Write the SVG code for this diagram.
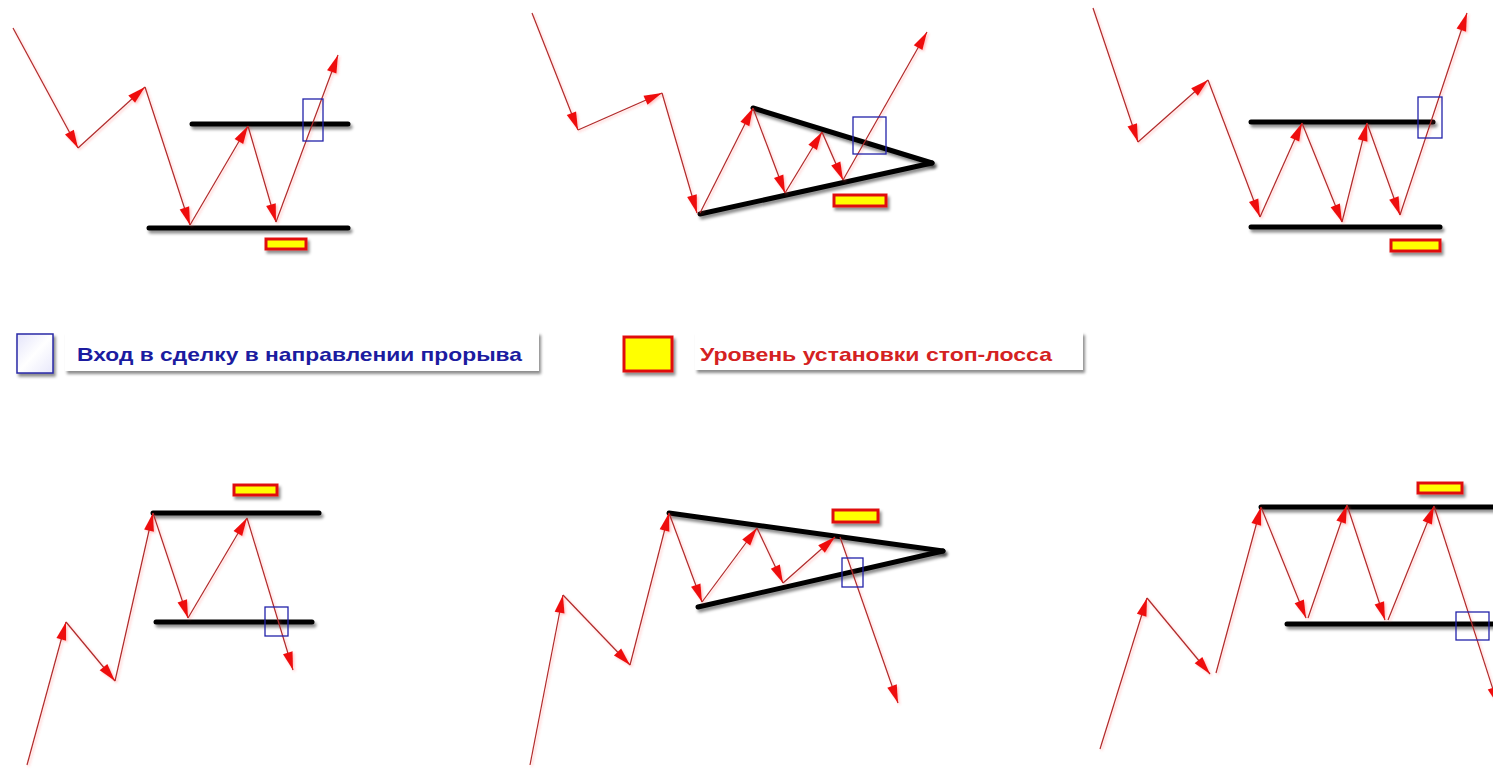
<svg xmlns="http://www.w3.org/2000/svg" width="1493" height="770" viewBox="0 0 1493 770">
<defs>
<filter id="sh" filterUnits="userSpaceOnUse" x="0" y="0" width="1520" height="800">
<feDropShadow dx="2" dy="3" stdDeviation="1.6" flood-color="#000" flood-opacity="0.45"/>
</filter>
<filter id="glow" filterUnits="userSpaceOnUse" x="0" y="0" width="1520" height="800">
<feDropShadow dx="1.5" dy="1.5" stdDeviation="1.2" flood-color="#ff5050" flood-opacity="0.35"/>
</filter>
<marker id="ah" markerUnits="userSpaceOnUse" markerWidth="22" markerHeight="14" viewBox="-20 -7 22 14" refX="0" refY="0" orient="auto">
<path d="M0,0 L-18,-5 L-18,5 Z" fill="#ee1111"/>
</marker>
<linearGradient id="bg" x1="0" y1="0" x2="1" y2="1">
<stop offset="0" stop-color="#e4e4fa"/>
<stop offset="0.5" stop-color="#ffffff"/>
<stop offset="1" stop-color="#e8e8fb"/>
</linearGradient>
</defs>
<style>
.lvl{stroke:#000;stroke-width:5;stroke-linecap:round;filter:url(#sh)}
.mv line{stroke:#b02a2a;stroke-width:1.2;marker-end:url(#ah)}
.mv{filter:url(#glow)}
.entry{fill:none;stroke:#2222aa;stroke-width:1.3}
.stop{fill:#ffff00;stroke:#e01010;stroke-width:3;filter:url(#sh)}
.lab{fill:#fff;filter:url(#sh)}
.t{font-family:"Liberation Sans",Arial,sans-serif;font-size:19px;font-weight:bold}
</style>
<rect width="1493" height="770" fill="#fff"/>

<!-- Panel 1: double bottom breakout up -->
<g id="panel1">
<g id="p1-levels">
<line class="lvl" x1="192" y1="124" x2="348" y2="124"/>
<line class="lvl" x1="149" y1="228" x2="348" y2="228"/>
</g>
<g id="p1-stop"><rect class="stop" x="266" y="239" width="40" height="10"/></g>
<g id="p1-connectors" class="mv">
<line x1="13" y1="28" x2="78" y2="148"/>
<line x1="78" y1="148" x2="145" y2="87"/>
<line x1="145" y1="87" x2="190" y2="225"/>
<line x1="190" y1="225" x2="248" y2="126"/>
<line x1="248" y1="126" x2="276" y2="222"/>
<line x1="276" y1="222" x2="338" y2="55"/>
</g>
<g id="p1-entry"><rect class="entry" x="303" y="99" width="20" height="42"/></g>
</g>

<!-- Panel 2: triangle breakout up -->
<g id="panel2">
<g id="p2-levels">
<line class="lvl" x1="753" y1="108" x2="932" y2="163"/>
<line class="lvl" x1="700" y1="214" x2="932" y2="163"/>
</g>
<g id="p2-stop"><rect class="stop" x="834" y="195" width="52" height="11"/></g>
<g id="p2-connectors" class="mv">
<line x1="532" y1="13" x2="578" y2="130"/>
<line x1="578" y1="130" x2="662" y2="93"/>
<line x1="662" y1="93" x2="697" y2="213"/>
<line x1="700" y1="213" x2="753" y2="108"/>
<line x1="753" y1="108" x2="785" y2="193"/>
<line x1="785" y1="193" x2="822" y2="132"/>
<line x1="822" y1="132" x2="843" y2="180"/>
<line x1="843" y1="180" x2="927" y2="32"/>
</g>
<g id="p2-entry"><rect class="entry" x="853" y="117" width="33" height="37"/></g>
</g>

<!-- Panel 3: range breakout up -->
<g id="panel3">
<g id="p3-levels">
<line class="lvl" x1="1251" y1="122" x2="1433" y2="122"/>
<line class="lvl" x1="1251" y1="227" x2="1440" y2="227"/>
</g>
<g id="p3-stop"><rect class="stop" x="1391" y="240" width="49" height="11"/></g>
<g id="p3-connectors" class="mv">
<line x1="1093" y1="8" x2="1138" y2="142"/>
<line x1="1138" y1="142" x2="1208" y2="80"/>
<line x1="1208" y1="80" x2="1260" y2="217"/>
<line x1="1260" y1="217" x2="1302" y2="123"/>
<line x1="1302" y1="123" x2="1342" y2="222"/>
<line x1="1342" y1="222" x2="1367" y2="123"/>
<line x1="1367" y1="123" x2="1400" y2="215"/>
<line x1="1400" y1="215" x2="1467" y2="13"/>
</g>
<g id="p3-entry"><rect class="entry" x="1418" y="97" width="24" height="41"/></g>
</g>

<!-- Legend -->
<g id="legend-entry">
<rect x="17" y="334" width="36" height="39" fill="url(#bg)" stroke="#2a2aa6" stroke-width="1.5" filter="url(#sh)"/>
<rect class="lab" x="65" y="332" width="474" height="39"/>
<text class="t" x="77" y="361" fill="#1c1ca0" textLength="445" lengthAdjust="spacingAndGlyphs">Вход в сделку в направлении прорыва</text>
</g>
<g id="legend-stop">
<rect x="624" y="337" width="48" height="34" fill="#ffff00" stroke="#e01010" stroke-width="3" filter="url(#sh)"/>
<rect class="lab" x="695" y="332" width="388" height="38"/>
<text class="t" x="700" y="361" fill="#d42222" textLength="352" lengthAdjust="spacingAndGlyphs">Уровень установки стоп-лосса</text>
</g>

<!-- Panel 4: double top breakout down -->
<g id="panel4">
<g id="p4-levels">
<line class="lvl" x1="153" y1="513" x2="319" y2="513"/>
<line class="lvl" x1="156" y1="622" x2="312" y2="622"/>
</g>
<g id="p4-stop"><rect class="stop" x="234" y="485" width="43" height="10"/></g>
<g id="p4-connectors" class="mv">
<line x1="27" y1="765" x2="66" y2="622"/>
<line x1="66" y1="622" x2="115" y2="681"/>
<line x1="115" y1="681" x2="153" y2="513"/>
<line x1="153" y1="513" x2="188" y2="618"/>
<line x1="188" y1="618" x2="247" y2="518"/>
<line x1="247" y1="518" x2="293" y2="670"/>
</g>
<g id="p4-entry"><rect class="entry" x="265" y="607" width="23" height="29"/></g>
</g>

<!-- Panel 5: triangle breakout down -->
<g id="panel5">
<g id="p5-levels">
<line class="lvl" x1="669" y1="513" x2="943" y2="551"/>
<line class="lvl" x1="698" y1="607" x2="943" y2="551"/>
</g>
<g id="p5-stop"><rect class="stop" x="833" y="510" width="45" height="12"/></g>
<g id="p5-connectors" class="mv">
<line x1="530" y1="765" x2="563" y2="595"/>
<line x1="563" y1="595" x2="630" y2="665"/>
<line x1="630" y1="665" x2="669" y2="513"/>
<line x1="669" y1="513" x2="702" y2="602"/>
<line x1="702" y1="602" x2="757" y2="528"/>
<line x1="757" y1="528" x2="783" y2="583"/>
<line x1="783" y1="583" x2="835" y2="537"/>
<line x1="840" y1="537" x2="898" y2="703"/>
</g>
<g id="p5-entry"><rect class="entry" x="842" y="558" width="21" height="29"/></g>
</g>

<!-- Panel 6: range breakout down -->
<g id="panel6">
<g id="p6-levels">
<line class="lvl" x1="1261" y1="507" x2="1500" y2="507"/>
<line class="lvl" x1="1287" y1="624" x2="1500" y2="624"/>
</g>
<g id="p6-stop"><rect class="stop" x="1418" y="483" width="44" height="10"/></g>
<g id="p6-connectors" class="mv">
<line x1="1100" y1="749" x2="1147" y2="598"/>
<line x1="1147" y1="598" x2="1210" y2="674"/>
<line x1="1216" y1="673" x2="1261" y2="507"/>
<line x1="1261" y1="507" x2="1306" y2="618"/>
<line x1="1308" y1="618" x2="1347" y2="505"/>
<line x1="1347" y1="505" x2="1385" y2="620"/>
<line x1="1388" y1="620" x2="1434" y2="506"/>
<line x1="1434" y1="506" x2="1498" y2="705"/>
</g>
<g id="p6-entry"><rect class="entry" x="1456" y="612" width="33" height="28"/></g>
</g>
</svg>
